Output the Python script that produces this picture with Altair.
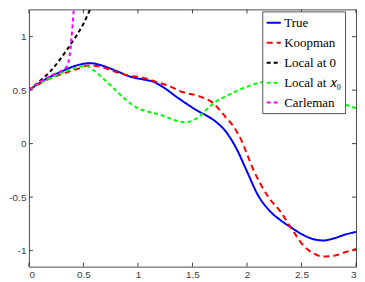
import altair as alt
import pandas as pd

# ---- data ----
series_names = ["True", "Koopman", "Local at 0", "Local at 𝑥₀", "Carleman"]
series_colors = ["#0000ff", "#ff0000", "#000000", "#00ff00", "#ff00ff"]

true_x = [0, 0.15, 0.3, 0.45, 0.56, 0.7, 0.8, 0.95, 1.05, 1.15, 1.25, 1.35, 1.45, 1.55, 1.65,
          1.72, 1.8, 1.9, 2.0, 2.1, 2.2, 2.3, 2.4, 2.5, 2.6, 2.7, 2.8, 2.9, 3.0]
true_y = [0.5, 0.6, 0.675, 0.735, 0.752, 0.72, 0.68, 0.62, 0.6, 0.575, 0.515, 0.44, 0.37, 0.305, 0.25,
          0.2, 0.12, -0.04, -0.26, -0.48, -0.62, -0.71, -0.78, -0.845, -0.89, -0.905, -0.885, -0.85, -0.825]

koop_x = [0, 0.15, 0.3, 0.45, 0.55, 0.65, 0.8, 0.94, 1.01, 1.16, 1.28, 1.4, 1.57, 1.69, 1.81, 1.87,
          1.93, 2.07, 2.19, 2.31, 2.4, 2.52, 2.6, 2.7, 2.81, 2.9, 3.0]
koop_y = [0.5, 0.59, 0.65, 0.7, 0.73, 0.72, 0.67, 0.63, 0.624, 0.58, 0.54, 0.485, 0.44, 0.378, 0.24, 0.17,
          0.07, -0.27, -0.49, -0.64, -0.78, -0.955, -1.02, -1.055, -1.045, -1.015, -0.985]

local0_x = [0, 0.1, 0.2, 0.28, 0.35, 0.43, 0.5, 0.56, 0.62]
local0_y = [0.5, 0.585, 0.68, 0.78, 0.88, 1.0, 1.12, 1.25, 1.36]

localx0_x = [0, 0.15, 0.3, 0.45, 0.52, 0.6, 0.7, 0.8, 0.9, 1.0, 1.1, 1.22, 1.32, 1.43, 1.5, 1.57, 1.6,
             1.69, 1.84, 2.02, 2.16, 2.3, 2.45, 2.6, 2.7, 2.85, 3.0]
localx0_y = [0.5, 0.59, 0.66, 0.715, 0.725, 0.68, 0.59, 0.495, 0.4, 0.33, 0.295, 0.265, 0.225, 0.2, 0.215,
             0.26, 0.29, 0.375, 0.46, 0.54, 0.58, 0.6, 0.55, 0.47, 0.42, 0.38, 0.33]

carl_x = [0, 0.1, 0.2, 0.3, 0.34, 0.365, 0.38, 0.39, 0.4, 0.415]
carl_y = [0.5, 0.575, 0.635, 0.68, 0.71, 0.77, 0.88, 0.98, 1.1, 1.32]

x_ticks = [0, 0.5, 1, 1.5, 2, 2.5, 3]
y_ticks = [-1, -0.5, 0, 0.5, 1]

# ---- styling ----
W, H = 328, 258
dashes = [[1, 0], [6, 4], [4, 3], [4, 3], [4, 3]]
widths = [2, 2, 1, 1, 1]
serif = "Liberation Serif"
sans = "Liberation Sans"

rows = []
for name, xs, ys in zip(series_names,
                        [true_x, koop_x, local0_x, localx0_x, carl_x],
                        [true_y, koop_y, local0_y, localx0_y, carl_y]):
    for xv, yv in zip(xs, ys):
        rows.append({"series": name, "x": xv, "y": yv})
df = pd.DataFrame(rows)

label_expr = "datum.value < 0 ? '-' + format(-datum.value, '~g') : format(datum.value, '~g')"

xscale = alt.Scale(domain=[0, 3], nice=False, zero=False)
yscale = alt.Scale(domain=[-1.15, 1.255], nice=False, zero=False)

legend = alt.Legend(orient="none", legendX=W - 94, legendY=2,
                    labelFont=serif, labelFontSize=13, labelColor="black")

lines = alt.Chart(df).mark_line(clip=True, interpolate="monotone").encode(
    x=alt.X("x:Q", scale=xscale, title=None,
            axis=alt.Axis(values=x_ticks, labelExpr=label_expr)),
    y=alt.Y("y:Q", scale=yscale, title=None,
            axis=alt.Axis(values=y_ticks, labelExpr=label_expr)),
    color=alt.Color("series:N", scale=alt.Scale(domain=series_names, range=series_colors),
                    title=None, legend=legend),
    strokeDash=alt.StrokeDash("series:N", scale=alt.Scale(domain=series_names, range=dashes),
                              title=None, legend=legend),
    strokeWidth=alt.StrokeWidth("series:N", scale=alt.Scale(domain=series_names, range=widths),
                                legend=None),
)

tick_color = "#404040"
xt = pd.DataFrame({"x": x_ticks})
yt = pd.DataFrame({"y": y_ticks})
xb = alt.Chart(xt).mark_rule(color=tick_color, strokeWidth=1).encode(
    x=alt.X("x:Q", scale=xscale), y=alt.value(H), y2=alt.value(H - 4))
xtp = alt.Chart(xt).mark_rule(color=tick_color, strokeWidth=1).encode(
    x=alt.X("x:Q", scale=xscale), y=alt.value(0), y2=alt.value(4))
yl = alt.Chart(yt).mark_rule(color=tick_color, strokeWidth=1).encode(
    y=alt.Y("y:Q", scale=yscale), x=alt.value(0), x2=alt.value(4))
yr = alt.Chart(yt).mark_rule(color=tick_color, strokeWidth=1).encode(
    y=alt.Y("y:Q", scale=yscale), x=alt.value(W), x2=alt.value(W - 4))

chart = alt.layer(xb, xtp, yl, yr, lines).properties(
    width=W, height=H, padding={"left": 0, "top": 0, "right": 0, "bottom": 0}
).configure_view(
    stroke="#4d4d4d", strokeWidth=1
).configure_axis(
    grid=False, ticks=False, domain=False,
    labelFont=sans, labelFontSize=10, labelColor="#404040", labelPadding=3,
).configure_legend(
    fillColor="white", strokeColor="#555555", padding=3, rowPadding=4,
    symbolType="stroke", symbolSize=200, symbolStrokeWidth=1.5,
    labelFont=serif, labelFontSize=13, labelColor="black", labelOffset=2,
    labelLimit=200,
)

chart.save("out.html", embed_options={"renderer": "svg", "actions": False})
